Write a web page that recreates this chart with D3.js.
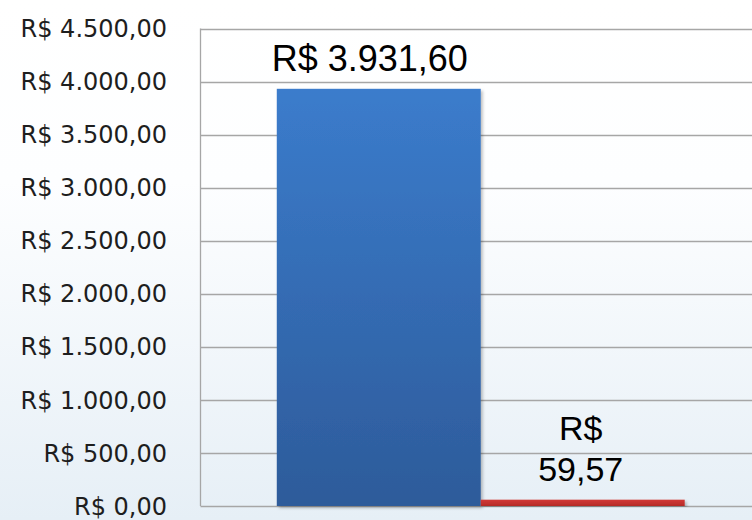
<!DOCTYPE html>
<html>
<head>
<meta charset="utf-8">
<script src="https://cdn.jsdelivr.net/npm/d3@7"></script>
<style>
  html, body { margin: 0; padding: 0; background: #fff; }
  svg { display: block; }
</style>
</head>
<body>
<svg></svg>
<script>
// Dados do gráfico
const categorias = ["Total"];
const series = ["Serie A", "Serie B"];
const valores = [3931.60, 59.57];
const rotulos = [["R$ 3.931,60"], ["R$", "59,57"]];
const ticks = [0, 500, 1000, 1500, 2000, 2500, 3000, 3500, 4000, 4500];
const cores = ["azul", "vermelho"];

const width = 752, height = 520;
const margin = { top: 28.5, right: -9, bottom: 14, left: 200.5 };

const svg = d3.select("svg").attr("width", width).attr("height", height);
const defs = svg.append("defs");

// Fundo com degradê azul claro
const bg = defs.append("linearGradient").attr("id", "bg")
  .attr("x1", 0).attr("y1", 0).attr("x2", 0).attr("y2", 1);
bg.append("stop").attr("offset", "0%").attr("stop-color", "#ffffff");
bg.append("stop").attr("offset", "35%").attr("stop-color", "#fdfeff");
bg.append("stop").attr("offset", "100%").attr("stop-color", "#e6eff6");
svg.append("rect").attr("width", width).attr("height", height).attr("fill", "url(#bg)");

const gAzul = defs.append("linearGradient").attr("id", "azul")
  .attr("x1", 0).attr("y1", 0).attr("x2", 0).attr("y2", 1);
gAzul.append("stop").attr("offset", "0%").attr("stop-color", "#3b7ccc");
gAzul.append("stop").attr("offset", "100%").attr("stop-color", "#2d5b9a");

const gVerm = defs.append("linearGradient").attr("id", "vermelho")
  .attr("x1", 0).attr("y1", 0).attr("x2", 0).attr("y2", 1);
gVerm.append("stop").attr("offset", "0%").attr("stop-color", "#d23a36");
gVerm.append("stop").attr("offset", "100%").attr("stop-color", "#b52a27");

const sombra = defs.append("filter").attr("id", "sombra")
  .attr("x", "-5%").attr("y", "-5%").attr("width", "115%").attr("height", "115%");
sombra.append("feDropShadow").attr("dx", 2).attr("dy", 2).attr("stdDeviation", 1.5)
  .attr("flood-color", "#000").attr("flood-opacity", 0.25);

const x0 = d3.scaleBand().domain(categorias)
  .range([margin.left, width - margin.right]).paddingInner(0).paddingOuter(0.187);
const x1 = d3.scaleBand().domain(series).range([0, x0.bandwidth()]);
const y = d3.scaleLinear().domain([0, 4500]).range([height - margin.bottom, margin.top]);

// Linhas de grade
svg.append("g").selectAll("line").data(ticks).enter().append("line")
  .attr("x1", margin.left).attr("x2", width)
  .attr("y1", d => Math.round(y(d)) + 0.5).attr("y2", d => Math.round(y(d)) + 0.5)
  .attr("stroke", "#a6a6a6").attr("stroke-width", 1.3);

// Eixo vertical
svg.append("line")
  .attr("x1", margin.left).attr("x2", margin.left)
  .attr("y1", y(4500)).attr("y2", y(0))
  .attr("stroke", "#a6a6a6").attr("stroke-width", 1.3);

// Rótulos do eixo Y
const fmt = d3.formatLocale({ decimal: ",", thousands: ".", grouping: [3], currency: ["R$ ", ""] });
const f = fmt.format(",.2f");
svg.append("g").selectAll("text").data(ticks).enter().append("text")
  .attr("x", 167).attr("y", d => y(d)).attr("dy", "0.36em")
  .attr("text-anchor", "end")
  .style("font-family", "'DejaVu Sans', sans-serif").style("font-size", "24px")
  .style("fill", "#1e1e1e")
  .text(d => "R$ " + f(d));

// Barras
const grupo = svg.append("g").attr("transform", `translate(${x0(categorias[0])},0)`);
grupo.selectAll("rect").data(valores).enter().append("rect")
  .attr("x", (d, i) => x1(series[i]))
  .attr("width", x1.bandwidth())
  .attr("y", d => y(d))
  .attr("height", d => y(0) - y(d))
  .attr("fill", (d, i) => `url(#${cores[i]})`)
  .attr("filter", "url(#sombra)");

// Rótulos de valores
const cx = i => x1(series[i]) + x1.bandwidth() / 2 + (i === 0 ? -9 : -2);
const lab = grupo.selectAll("text.valor").data(valores).enter().append("text")
  .attr("class", "valor")
  .attr("y", (d, i) => i === 0 ? y(d) - 18 : y(d) - 60)
  .attr("text-anchor", "middle")
  .style("font-family", "'Liberation Sans', Arial, sans-serif")
  .style("font-size", (d, i) => i === 0 ? "36px" : "34px")
  .style("fill", "#000");
lab.each(function (d, i) {
  const t = d3.select(this);
  rotulos[i].forEach((s, k) => {
    t.append("tspan").attr("x", cx(i))
      .attr("dy", k === 0 ? 0 : 41).text(s);
  });
});
</script>
</body>
</html>
